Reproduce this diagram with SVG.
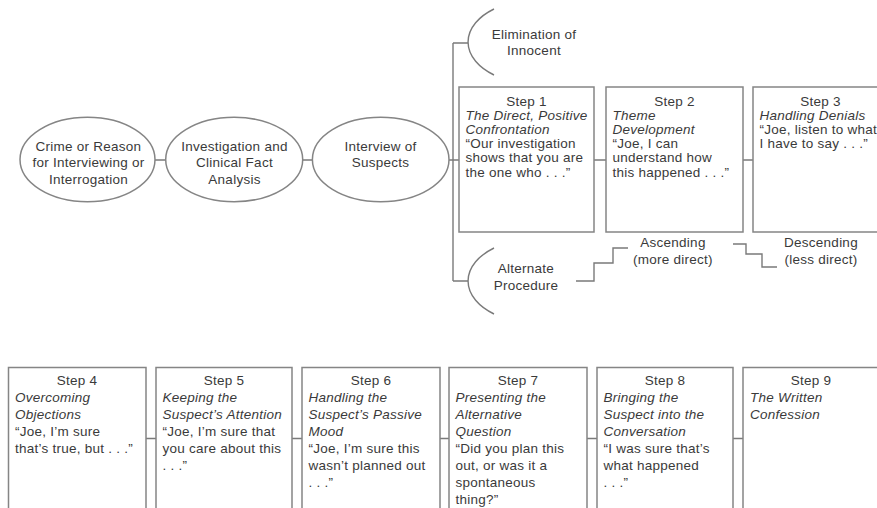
<svg xmlns="http://www.w3.org/2000/svg" width="877" height="508" viewBox="0 0 877 508">
<style>
  .shape { fill: #ffffff; stroke: #858585; stroke-width: 1.5; }
  .line { fill: none; stroke: #7a7a7a; stroke-width: 1.4; }
  text { font-family: "Liberation Sans", Arial, sans-serif; font-size: 13.5px; fill: #3a3a3a; letter-spacing: 0.25px; }
  .c { text-anchor: middle; }
  .i { font-style: italic; }
</style>
<rect x="0" y="0" width="877" height="508" fill="#ffffff"/>

<g id="connectors">
  <path class="line" d="M155 160 H166 M302.5 160 H312.5 M449 160 H459"/>
  <path class="line" d="M453 43 V281 M453 43 H468 M453 281 H468"/>
  <path class="line" d="M594 160 H606 M743 160 H753"/>
  <path class="line" d="M146 438.5 H156 M292 438.5 H302 M440 438.5 H449 M587 438.5 H597 M733 438.5 H743"/>
  <path class="line" d="M576 281 H594 V263 H613 V248 H628"/>
  <path class="line" d="M733 244 H746 V254 H762 V267 H777"/>
</g>

<g id="crime">
  <ellipse class="shape" cx="87.5" cy="159.5" rx="67.5" ry="42.2"/>
  <text class="c" x="88.5" y="150.5">Crime or Reason</text>
  <text class="c" x="88.5" y="167">for Interviewing or</text>
  <text class="c" x="88.5" y="183.5">Interrogation</text>
</g>
<g id="investigation">
  <ellipse class="shape" cx="234.2" cy="159.5" rx="68.5" ry="42.2"/>
  <text class="c" x="234.5" y="150.5">Investigation and</text>
  <text class="c" x="234.5" y="167">Clinical Fact</text>
  <text class="c" x="234.5" y="183.5">Analysis</text>
</g>
<g id="interview">
  <ellipse class="shape" cx="380.7" cy="159.5" rx="68.3" ry="42.2"/>
  <text class="c" x="380.5" y="150.5">Interview of</text>
  <text class="c" x="380.5" y="167">Suspects</text>
</g>

<g id="elimination">
  <path class="line" d="M494 9 A68 42 0 0 0 494 75"/>
  <text class="c" x="534" y="38.5">Elimination of</text>
  <text class="c" x="534" y="55">Innocent</text>
</g>
<g id="alternate">
  <path class="line" d="M494 248 A68 42 0 0 0 494 314"/>
  <text class="c" x="526" y="272.5">Alternate</text>
  <text class="c" x="526" y="289.5">Procedure</text>
</g>
<g id="ascending">
  <text class="c" x="673" y="247">Ascending</text>
  <text class="c" x="673" y="263.5">(more direct)</text>
</g>
<g id="descending">
  <text class="c" x="821" y="247">Descending</text>
  <text class="c" x="821" y="263.5">(less direct)</text>
</g>

<g id="step1">
  <rect class="shape" x="459" y="87" width="135" height="145"/>
  <text class="c" x="526.5" y="105.5">Step 1</text>
  <text class="i" x="465.5" y="119.7">The Direct, Positive</text>
  <text class="i" x="465.5" y="133.9">Confrontation</text>
  <text x="465.5" y="148.1">“Our investigation</text>
  <text x="465.5" y="162.3">shows that you are</text>
  <text x="465.5" y="176.5">the one who . . .”</text>
</g>
<g id="step2">
  <rect class="shape" x="606" y="87" width="137" height="145"/>
  <text class="c" x="674.5" y="105.5">Step 2</text>
  <text class="i" x="612.5" y="119.7">Theme</text>
  <text class="i" x="612.5" y="133.9">Development</text>
  <text x="612.5" y="148.1">“Joe, I can</text>
  <text x="612.5" y="162.3">understand how</text>
  <text x="612.5" y="176.5">this happened . . .”</text>
</g>
<g id="step3">
  <rect class="shape" x="753" y="87" width="136" height="145"/>
  <text class="c" x="820.5" y="105.5">Step 3</text>
  <text class="i" x="759.5" y="119.7">Handling Denials</text>
  <text x="759.5" y="133.9">“Joe, listen to what</text>
  <text x="759.5" y="148.1">I have to say . . .”</text>
</g>

<g id="step4">
  <rect class="shape" x="8.5" y="367.5" width="137.5" height="160"/>
  <text class="c" x="77" y="384.5">Step 4</text>
  <text class="i" x="15" y="401.6">Overcoming</text>
  <text class="i" x="15" y="418.7">Objections</text>
  <text x="15" y="435.8">“Joe, I’m sure</text>
  <text x="15" y="452.9">that’s true, but . . .”</text>
</g>
<g id="step5">
  <rect class="shape" x="156" y="367.5" width="136" height="160"/>
  <text class="c" x="224" y="384.5">Step 5</text>
  <text class="i" x="162.5" y="401.6">Keeping the</text>
  <text class="i" x="162.5" y="418.7">Suspect’s Attention</text>
  <text x="162.5" y="435.8">“Joe, I’m sure that</text>
  <text x="162.5" y="452.9">you care about this</text>
  <text x="162.5" y="470">. . .”</text>
</g>
<g id="step6">
  <rect class="shape" x="302" y="367.5" width="138" height="160"/>
  <text class="c" x="371" y="384.5">Step 6</text>
  <text class="i" x="308.5" y="401.6">Handling the</text>
  <text class="i" x="308.5" y="418.7">Suspect’s Passive</text>
  <text class="i" x="308.5" y="435.8">Mood</text>
  <text x="308.5" y="452.9">“Joe, I’m sure this</text>
  <text x="308.5" y="470">wasn’t planned out</text>
  <text x="308.5" y="487.1">. . .”</text>
</g>
<g id="step7">
  <rect class="shape" x="449" y="367.5" width="138" height="160"/>
  <text class="c" x="518" y="384.5">Step 7</text>
  <text class="i" x="455.5" y="401.6">Presenting the</text>
  <text class="i" x="455.5" y="418.7">Alternative</text>
  <text class="i" x="455.5" y="435.8">Question</text>
  <text x="455.5" y="452.9">“Did you plan this</text>
  <text x="455.5" y="470">out, or was it a</text>
  <text x="455.5" y="487.1">spontaneous</text>
  <text x="455.5" y="504.2">thing?”</text>
</g>
<g id="step8">
  <rect class="shape" x="597" y="367.5" width="136" height="160"/>
  <text class="c" x="665" y="384.5">Step 8</text>
  <text class="i" x="603.5" y="401.6">Bringing the</text>
  <text class="i" x="603.5" y="418.7">Suspect into the</text>
  <text class="i" x="603.5" y="435.8">Conversation</text>
  <text x="603.5" y="452.9">“I was sure that’s</text>
  <text x="603.5" y="470">what happened</text>
  <text x="603.5" y="487.1">. . .”</text>
</g>
<g id="step9">
  <rect class="shape" x="743" y="367.5" width="137" height="160"/>
  <text class="c" x="811" y="384.5">Step 9</text>
  <text class="i" x="750" y="401.6">The Written</text>
  <text class="i" x="750" y="418.7">Confession</text>
</g>
</svg>
